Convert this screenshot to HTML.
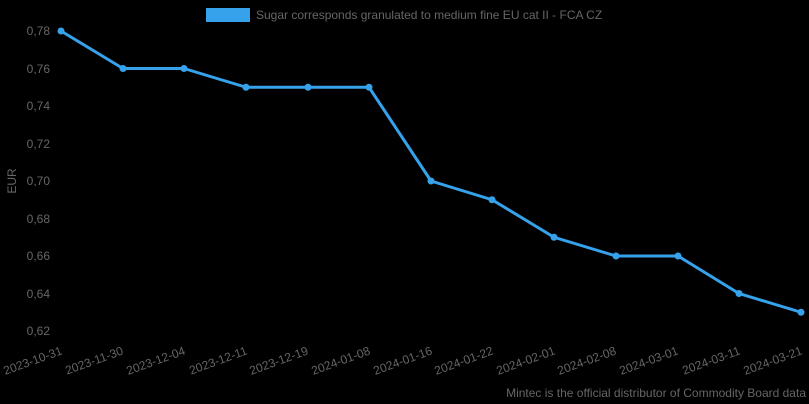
<!DOCTYPE html><html><head><style>body{margin:0;background:#000}svg{display:block}text{font-family:"Liberation Sans",Arial,sans-serif;fill:#666;font-size:12px}</style></head><body>
<svg width="809" height="404" xmlns="http://www.w3.org/2000/svg">
<rect width="809" height="404" fill="#000"/>
<rect x="206" y="8" width="44" height="14" fill="#36a2eb"/>
<text x="256" y="19">Sugar corresponds granulated to medium fine EU cat II - FCA CZ</text>
<g text-anchor="end">
<text x="50" y="35">0,78</text><text x="50" y="73">0,76</text><text x="50" y="110">0,74</text><text x="50" y="148">0,72</text><text x="50" y="185">0,70</text><text x="50" y="223">0,68</text><text x="50" y="260">0,66</text><text x="50" y="298">0,64</text><text x="50" y="335">0,62</text>
</g>
<text transform="translate(16,181) rotate(-90)" text-anchor="middle">EUR</text>
<polyline fill="none" stroke="#36a2eb" stroke-width="3" stroke-linejoin="round" points="61,31 123,68.5 184,68.5 246,87.25 308,87.25 369,87.25 431,181 492,199.75 554,237.25 616,256 678,256 739,293.5 801,312.25"/>
<g fill="#36a2eb">
<circle cx="61" cy="31" r="3.5"/><circle cx="123" cy="68.5" r="3.5"/><circle cx="184" cy="68.5" r="3.5"/><circle cx="246" cy="87.25" r="3.5"/><circle cx="308" cy="87.25" r="3.5"/><circle cx="369" cy="87.25" r="3.5"/><circle cx="431" cy="181" r="3.5"/><circle cx="492" cy="199.75" r="3.5"/><circle cx="554" cy="237.25" r="3.5"/><circle cx="616" cy="256" r="3.5"/><circle cx="678" cy="256" r="3.5"/><circle cx="739" cy="293.5" r="3.5"/><circle cx="801" cy="312.25" r="3.5"/>
</g>
<g text-anchor="end">
<text transform="translate(63,354) rotate(-20)">2023-10-31</text>
<text transform="translate(124,354) rotate(-20)">2023-11-30</text>
<text transform="translate(186,354) rotate(-20)">2023-12-04</text>
<text transform="translate(248,354) rotate(-20)">2023-12-11</text>
<text transform="translate(309,354) rotate(-20)">2023-12-19</text>
<text transform="translate(371,354) rotate(-20)">2024-01-08</text>
<text transform="translate(433,354) rotate(-20)">2024-01-16</text>
<text transform="translate(494,354) rotate(-20)">2024-01-22</text>
<text transform="translate(556,354) rotate(-20)">2024-02-01</text>
<text transform="translate(617,354) rotate(-20)">2024-02-08</text>
<text transform="translate(679,354) rotate(-20)">2024-03-01</text>
<text transform="translate(741,354) rotate(-20)">2024-03-11</text>
<text transform="translate(803,354) rotate(-20)">2024-03-21</text>
<text x="806" y="397">Mintec is the official distributor of Commodity Board data</text>
</g>
</svg></body></html>
